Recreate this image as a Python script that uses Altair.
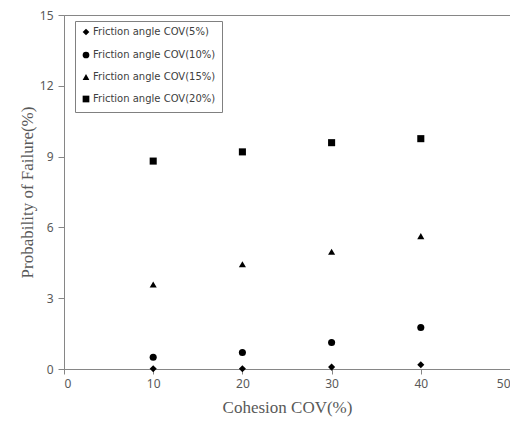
import altair as alt
import pandas as pd

cohesion_cov = [10, 20, 30, 40]
series_names = [
    "Friction angle COV(5%)",
    "Friction angle COV(10%)",
    "Friction angle COV(15%)",
    "Friction angle COV(20%)",
]
pf_5 = [0.01, 0.01, 0.08, 0.18]
pf_10 = [0.50, 0.70, 1.12, 1.76]
pf_15 = [3.58, 4.44, 4.97, 5.63]
pf_20 = [8.81, 9.20, 9.59, 9.76]

rows = []
for name, vals in zip(series_names, [pf_5, pf_10, pf_15, pf_20]):
    for x, y in zip(cohesion_cov, vals):
        rows.append({"cov": x, "pf": y, "series": name})
df = pd.DataFrame(rows)

axis_gray = "#868686"
label_gray = "#595959"

chart = alt.Chart(df).mark_point(filled=True, opacity=1, color="black", size=50).encode(
    x=alt.X("cov:Q",
            scale=alt.Scale(domain=[0, 50], nice=False, zero=True),
            axis=alt.Axis(title="Cohesion COV(%)", values=[0, 10, 20, 30, 40, 50],
                          grid=False, tickSize=5, labelPadding=4, titlePadding=10)),
    y=alt.Y("pf:Q",
            scale=alt.Scale(domain=[0, 15], nice=False),
            axis=alt.Axis(title="Probability of Failure(%)", values=[0, 3, 6, 9, 12, 15],
                          grid=False, tickSize=6, labelPadding=5, titlePadding=3)),
    shape=alt.Shape("series:N",
                    scale=alt.Scale(domain=series_names,
                                    range=["diamond", "circle", "triangle-up", "square"]),
                    legend=alt.Legend(title=None, orient="none", legendX=11, legendY=6,
                                      strokeColor="#808080", fillColor="white",
                                      padding=6, rowPadding=9, symbolSize=45,
                                      symbolFillColor="black", symbolStrokeColor="black",
                                      symbolType="circle",
                                      labelFont="DejaVu Sans", labelFontSize=10,
                                      labelColor="#404040", symbolOffset=0,
                                      labelOffset=2)),
).properties(
    width=446, height=354,
    autosize=alt.AutoSizeParams(type="none"),
    padding={"left": 56, "top": 7, "right": 0, "bottom": 50},
).configure_view(
    stroke=axis_gray, strokeWidth=1
).configure_axis(
    domainColor=axis_gray, tickColor=axis_gray,
    labelFont="Noto Sans", labelFontSize=12, labelColor=label_gray,
    titleFont="Liberation Serif", titleFontSize=17, titleColor=label_gray,
    titleFontWeight="normal",
)

chart.save("out.html", embed_options={"renderer": "svg", "actions": False})
